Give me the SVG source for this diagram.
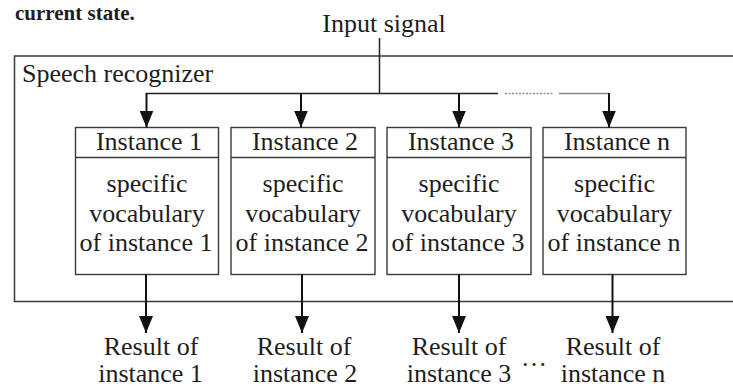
<svg xmlns="http://www.w3.org/2000/svg" width="733" height="387" viewBox="0 0 733 387" font-family="'Liberation Serif', 'Times New Roman', Times, serif">
  <style>
    .t { font-family: 'Liberation Serif', 'Times New Roman', Times, serif; font-size: 26px; fill: #1e1e1e; }
    .c { text-anchor: middle; }
    .box { fill: #fff; stroke: #3a3a3a; stroke-width: 1.4; }
    .div { stroke: #3a3a3a; stroke-width: 1.4; }
    .wire { stroke: #222; stroke-width: 1.5; fill: none; }
    .arrow { stroke: #111; stroke-width: 2; fill: none; marker-end: url(#head); }
  </style>
  <defs>
    <marker id="head" markerUnits="userSpaceOnUse" markerWidth="17" markerHeight="14" refX="17" refY="7" orient="auto">
      <path d="M0,0 L17,7 L0,14 z" fill="#111"/>
    </marker>
  </defs>

  <!-- tail of the preceding sentence -->
  <text class="t" x="15" y="20" font-weight="bold" style="font-size:21px">current state.</text>

  <!-- input label -->
  <text class="t c" x="384" y="32">Input signal</text>

  <!-- recognizer frame -->
  <g id="recognizer">
    <rect x="14.5" y="56" width="730" height="245.5" fill="none" stroke="#3a3a3a" stroke-width="1.5"/>
    <text class="t" x="22" y="82">Speech recognizer</text>
  </g>

  <!-- instances -->
  <g id="instance1">
    <rect class="box" x="75.5" y="127.5" width="143" height="147"/>
    <line class="div" x1="75.5" y1="157.5" x2="218.5" y2="157.5"/>
    <text class="t c" x="149" y="150">Instance 1</text>
    <text class="t c" x="147" y="191.5">specific</text>
    <text class="t c" x="147" y="221.5">vocabulary</text>
    <text class="t c" x="146" y="250.5">of instance 1</text>
  </g>
  <g id="instance2">
    <rect class="box" x="231" y="127.5" width="144" height="147"/>
    <line class="div" x1="231" y1="157.5" x2="375" y2="157.5"/>
    <text class="t c" x="305" y="150">Instance 2</text>
    <text class="t c" x="303" y="191.5">specific</text>
    <text class="t c" x="303" y="221.5">vocabulary</text>
    <text class="t c" x="302" y="250.5">of instance 2</text>
  </g>
  <g id="instance3">
    <rect class="box" x="387" y="127.5" width="144" height="147"/>
    <line class="div" x1="387" y1="157.5" x2="531" y2="157.5"/>
    <text class="t c" x="461" y="150">Instance 3</text>
    <text class="t c" x="459" y="191.5">specific</text>
    <text class="t c" x="459" y="221.5">vocabulary</text>
    <text class="t c" x="458" y="250.5">of instance 3</text>
  </g>
  <g id="instanceN">
    <rect class="box" x="543" y="127.5" width="143" height="147"/>
    <line class="div" x1="543" y1="157.5" x2="686" y2="157.5"/>
    <text class="t c" x="617" y="150">Instance n</text>
    <text class="t c" x="614.5" y="191.5">specific</text>
    <text class="t c" x="614.5" y="221.5">vocabulary</text>
    <text class="t c" x="614" y="250.5">of instance n</text>
  </g>

  <!-- results -->
  <g id="result1">
    <text class="t c" x="151" y="355">Result of</text>
    <text class="t c" x="150.5" y="381.5">instance 1</text>
  </g>
  <g id="result2">
    <text class="t c" x="304" y="355">Result of</text>
    <text class="t c" x="305" y="381.5">instance 2</text>
  </g>
  <g id="result3">
    <text class="t c" x="459" y="355">Result of</text>
    <text class="t c" x="459" y="381.5">instance 3</text>
  </g>
  <text class="t c" x="534" y="366">…</text>
  <g id="resultN">
    <text class="t c" x="613" y="355">Result of</text>
    <text class="t c" x="613" y="381.5">instance n</text>
  </g>

  <!-- connectors -->
  <g id="connectors">
    <line class="wire" x1="379.5" y1="38" x2="379.5" y2="93.5" stroke-width="1.2"/>
    <line class="wire" x1="146" y1="93.5" x2="498" y2="93.5"/>
    <line x1="505" y1="93.5" x2="553" y2="93.5" stroke="#8a8a8a" stroke-width="1.5" stroke-dasharray="2,1.5"/>
    <line x1="559" y1="93.5" x2="609.5" y2="93.5" stroke="#8a8a8a" stroke-width="1.5"/>
    <line class="arrow" x1="146.5" y1="93" x2="146.5" y2="127.5"/>
    <line class="arrow" x1="301" y1="93" x2="301" y2="127.5"/>
    <line class="arrow" x1="459" y1="93" x2="459" y2="127.5"/>
    <line class="arrow" x1="609" y1="93" x2="609" y2="127.5"/>
    <line class="arrow" x1="146" y1="274.5" x2="146" y2="333"/>
    <line class="arrow" x1="302" y1="274.5" x2="302" y2="333"/>
    <line class="arrow" x1="459" y1="274.5" x2="459" y2="333"/>
    <line class="arrow" x1="612.5" y1="274.5" x2="612.5" y2="333"/>
  </g>
</svg>
